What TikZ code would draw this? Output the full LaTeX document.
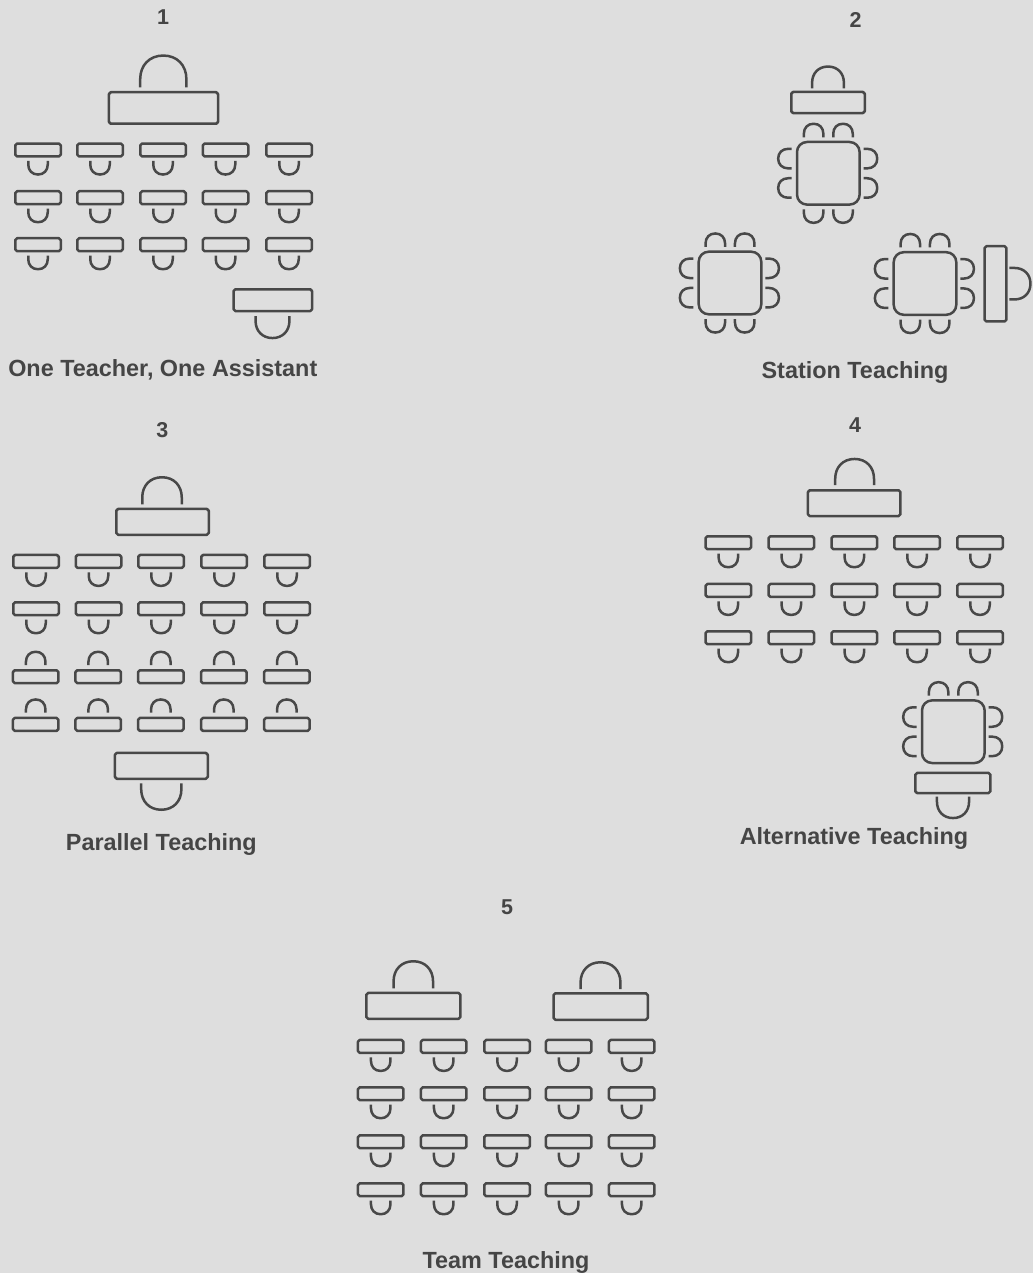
\documentclass[tikz,border=0pt]{standalone}
\usepackage{fontspec}
\setmainfont{Liberation Sans}
\definecolor{paper}{HTML}{DEDEDE}
\definecolor{ink}{HTML}{484848}
\definecolor{txt}{HTML}{454545}
\tikzset{
  furn/.style={draw=ink,line width=2.5pt,line join=round},
  deskbox/.style={furn,rounded corners=1.8pt},
  tablebox/.style={furn,rounded corners=10pt},
  chairline/.style={furn,line cap=butt},
  numlabel/.style={text=txt,font=\bfseries\fontsize{21.5}{24}\selectfont,inner sep=0pt,anchor=base},
  titlelabel/.style={text=txt,font=\bfseries\fontsize{23.4}{27}\selectfont,inner sep=0pt,anchor=base}
}
% centre x, base y, outer width, outer height, rotation
\newcommand{\chairat}[5]{%
  \pgfmathsetmacro{\rr}{(#3-2.5)/2}%
  \pgfmathsetmacro{\hh}{#4-1.25}%
  \pgfmathsetmacro{\ss}{\hh-1.02*\rr}%
  \pgfmathsetmacro{\cc}{\ss+0.6*\rr}%
  \pgfmathsetmacro{\kk}{0.6*\rr}%
  \draw[chairline,shift={(#1,#2)},rotate=#5]
    (-\rr,0) -- (-\rr,\ss) .. controls (-\rr,\cc) and (-\kk,\hh) .. (0,\hh)
    .. controls (\kk,\hh) and (\rr,\cc) .. (\rr,\ss) -- (\rr,0);}
% outer left, top, right, bottom
\newcommand{\deskat}[4]{\draw[deskbox] ({#1+1.25},{#2+1.25}) rectangle ({#3-1.25},{#4-1.25});}
% student desk: outer left, outer top
\newcommand{\studown}[2]{%
  \draw[deskbox] ({#1+1.25},{#2+1.25}) rectangle ++(45.5,12.9);
  \pgfmathsetmacro{\mx}{#1+24}\pgfmathsetmacro{\my}{#2+18.7}%
  \chairat{\mx}{\my}{22}{14.8}{0}}
\newcommand{\stuup}[2]{%
  \draw[deskbox] ({#1+1.25},{#2+1.25}) rectangle ++(45.5,12.9);
  \pgfmathsetmacro{\mx}{#1+24}\pgfmathsetmacro{\my}{#2-4}%
  \chairat{\mx}{\my}{22}{14.5}{180}}
% table with chairs on top, left and right: centre
\newcommand{\tableat}[2]{%
  \draw[tablebox] ({#1-31.3},{#2-31.3}) rectangle ({#1+31.3},{#2+31.3});
  \foreach \off in {-14.7,14.7}{%
    \pgfmathsetmacro{\pa}{#1+\off}\pgfmathsetmacro{\pb}{#2-36}%
    \pgfmathsetmacro{\pd}{#2+\off}\pgfmathsetmacro{\pe}{#1-36.6}\pgfmathsetmacro{\pf}{#1+35.4}%
    \chairat{\pa}{\pb}{22}{14.8}{180}
    \chairat{\pe}{\pd}{22}{14.8}{-90}
    \chairat{\pf}{\pd}{22}{14.8}{90}
  }}
% the two chairs on the table's bottom side: centre
\newcommand{\tablefoot}[2]{%
  \foreach \off in {-14.7,14.7}{%
    \pgfmathsetmacro{\pa}{#1+\off}\pgfmathsetmacro{\pc}{#2+36}%
    \chairat{\pa}{\pc}{22}{14.8}{0}
  }}
\begin{document}
\begin{tikzpicture}[x=1pt,y=-1pt]
\fill[paper] (0,0) rectangle (1033,1273);
\useasboundingbox (0,0) rectangle (1033,1273);

% Panel 1
\node[numlabel] (n1) at (163,25) {1};
\deskat{107.7}{91}{219.3}{125}
\chairat{163.3}{87.3}{48.7}{33}{180}
\foreach \x in {14,76,139,201.5,265}{\foreach \y in {142.3,190,237}{\studown{\x}{\y}}}
\deskat{232.3}{288}{313.3}{312.3}
\chairat{272.5}{316}{36.4}{23.3}{0}
\node[titlelabel] (t1) at (162.8,376.7) {One Teacher, One Assistant};

% Panel 2
\node[numlabel] (n2) at (855.5,28) {2};
\deskat{790}{90.7}{866}{114.3}
\chairat{828}{88.3}{34.3}{23}{180}
\tableat{828.3}{173.3}\tablefoot{828.3}{173.3}
\tableat{730}{283}\tablefoot{730}{283}
\tableat{925}{283.5}\tablefoot{925}{283.5}
\deskat{983.3}{245}{1007.7}{322.7}
\chairat{1009.3}{283.7}{34}{22.4}{90}
\node[titlelabel] (t2) at (855,378.7) {Station Teaching};

% Panel 3
\node[numlabel] (n3) at (162.3,437.7) {3};
\deskat{115}{507.7}{210}{536}
\chairat{162}{504.3}{42}{28.3}{180}
\foreach \x in {12,74.5,137,200,263}{\foreach \y in {553.7,601}{\studown{\x}{\y}}}
\foreach \x in {11.7,74.2,136.8,199.8,262.8}{\foreach \y in {669,716.7}{\stuup{\x}{\y}}}
\deskat{113.7}{751.7}{209}{780}
\chairat{161.3}{783.3}{42.7}{27.7}{0}
\node[titlelabel] (t3) at (161.3,850) {Parallel Teaching};

% Panel 4
\node[numlabel] (n4) at (855,432) {4};
\deskat{806.7}{489}{901.7}{517.3}
\chairat{854.6}{485}{41.3}{27.3}{180}
\foreach \x in {704.3,767.3,830.3,893,956}{\foreach \y in {535,582.7,630}{\studown{\x}{\y}}}
\tableat{953.3}{731.7}
\deskat{914}{771.7}{991.7}{794.3}
\chairat{953}{796.7}{34.6}{22.6}{0}
\node[titlelabel] (t4) at (854,844) {Alternative Teaching};

% Panel 5
\node[numlabel] (n5) at (507,914) {5};
\deskat{365}{991.7}{461.7}{1020}
\chairat{413.3}{988.3}{42}{28.3}{180}
\deskat{552.3}{992}{649}{1021}
\chairat{600.5}{989}{42.4}{28}{180}
\foreach \x in {356.7,419.7,483,544.7,607.7}{\foreach \y in {1038.7,1086,1134,1182}{\studown{\x}{\y}}}
\node[titlelabel] (t5) at (506,1268) {Team Teaching};
\end{tikzpicture}
\end{document}
